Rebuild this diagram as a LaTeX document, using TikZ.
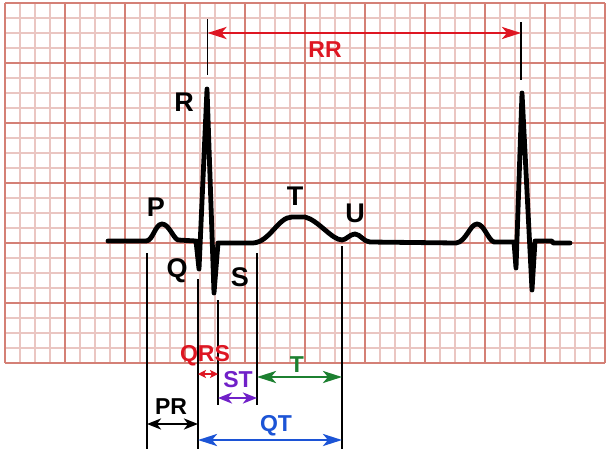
\documentclass[tikz,border=0pt]{standalone}
\usepackage{fontspec}
\setmainfont{Liberation Sans}
\usetikzlibrary{arrows.meta}
\definecolor{minorc}{RGB}{234,198,194}
\definecolor{majorc}{RGB}{212,128,118}
\definecolor{cred}{RGB}{222,22,34}
\definecolor{cgreen}{RGB}{28,128,48}
\definecolor{cpurple}{RGB}{112,32,200}
\definecolor{cblue}{RGB}{28,84,214}
\tikzset{
  minorline/.style={minorc, line width=1.3pt},
  majorline/.style={majorc, line width=1.5pt},
  trace/.style={black, line width=4.8pt, line join=round, line cap=round},
  guide/.style={black, line width=1.4pt},
  wave/.style={font=\bfseries\fontsize{27}{27}\selectfont, inner sep=0pt},
  seg/.style={font=\bfseries\fontsize{23}{23}\selectfont, inner sep=0pt},
  dim/.style={line width=2.8pt, {Stealth[length=19pt,width=12pt,inset=5pt]}-{Stealth[length=19pt,width=12pt,inset=5pt]}},
  dimsmall/.style={line width=2.3pt, {Stealth[length=8pt,width=8pt,inset=2pt]}-{Stealth[length=8pt,width=8pt,inset=2pt]}},
  dimmid/.style={line width=2.7pt, {Stealth[length=14pt,width=11pt,inset=4pt]}-{Stealth[length=14pt,width=11pt,inset=4pt]}},
}
\begin{document}
\begin{tikzpicture}[x=1pt,y=-1pt]
\useasboundingbox (0,0) rectangle (610,461);
\fill[white] (0,0) rectangle (610,461);
% grid
\foreach \i in {0,...,40} \draw[minorline] ({5+15*\i},3) -- ({5+15*\i},363);
\foreach \j in {0,...,24} \draw[minorline] (5,{3+15*\j}) -- (605,{3+15*\j});
\foreach \i in {0,...,10} \draw[majorline] ({5+60*\i},3) -- ({5+60*\i},363);
\foreach \j in {0,...,6} \draw[majorline] (5,{3+60*\j}) -- (605,{3+60*\j});
% ECG trace
\draw[trace] (108,241) -- (146,241)
  .. controls (153,241) and (155,224) .. (162,224)
  .. controls (169,224) and (173,238) .. (178,240)
  -- (196,241) -- (199,269) -- (207,89) -- (214,293) -- (218,243) -- (253,243)
  .. controls (270,242) and (278,217) .. (292,217) -- (305,217)
  .. controls (318,220) and (332,240) .. (342,240)
  .. controls (346,240) and (350,234) .. (355,234)
  .. controls (360,234) and (364,242) .. (370,242) -- (456,243)
  .. controls (466,242) and (470,224) .. (477,224)
  .. controls (484,224) and (488,240) .. (494,242)
  -- (514,242) -- (516,268) -- (522,93) -- (532,290) -- (535,241)
  -- (552,241) -- (553,243) -- (570,243);
% guide coordinates
\coordinate (rra) at (207.5,19);
\coordinate (rrab) at (207.5,75);
\coordinate (rrb) at (521,22);
\coordinate (rrbb) at (521,80);
\coordinate (pt) at (147,253);
\coordinate (pb) at (147,449);
\coordinate (qt) at (198,279);
\coordinate (qb) at (198,449);
\coordinate (st) at (218,300);
\coordinate (sb) at (218,405);
\coordinate (jt) at (257,253);
\coordinate (jb) at (257,405);
\coordinate (tt) at (342,246);
\coordinate (tb) at (342,449);
\draw[guide] (rra) -- (rrab);
\draw[guide] (rrb) -- (rrbb);
\draw[guide] (pt) -- (pb);
\draw[guide] (qt) -- (qb);
\draw[guide] (st) -- (sb);
\draw[guide] (jt) -- (jb);
\draw[guide] (tt) -- (tb);
% dimension arrows
\draw[dim, cred] (207.5,33) -- (521,33);
\draw[dimsmall, cred] (198,374) -- (218,374);
\draw[dimmid, cpurple] (218,398) -- (257,398);
\draw[dim, cgreen] (257,377) -- (342,377);
\draw[dimmid, black] (147,424) -- (198,424);
\draw[dim, cblue] (198,440) -- (342,440);
% wave labels
\node[wave] (lR) at (184,102) {R};
\node[wave] (lP) at (156,207) {P};
\node[wave] (lQ) at (177,271) {Q};
\node[wave] (lS) at (240,277) {S};
\node[wave] (lT) at (295,196) {T};
\node[wave] (lU) at (355,213) {U};
% interval labels
\node[seg, cred] (lRR) at (325,50) {RR};
\node[seg, cred] (lQRS) at (205,356) {QRS};
\node[seg, cgreen] (lTT) at (297,365) {T};
\node[seg, cpurple] (lST) at (238,380) {ST};
\node[seg, black] (lPR) at (171,407) {PR};
\node[seg, cblue] (lQT) at (276,426) {QT};
\end{tikzpicture}
\end{document}
